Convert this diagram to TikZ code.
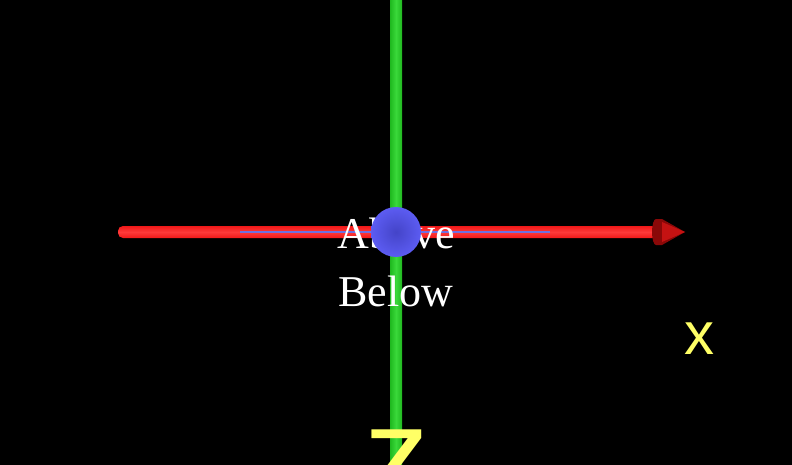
\documentclass[tikz,border=0pt]{standalone}
\usepackage{fontspec}
\setmainfont{Liberation Serif}
\newfontfamily\axisfont{Liberation Sans}
\definecolor{bgblack}{HTML}{000000}
\definecolor{greenbar}{HTML}{1FB81F}
\definecolor{greenlight}{HTML}{3AD83A}
\definecolor{redbar}{HTML}{F01818}
\definecolor{redlight}{HTML}{FF3A3A}
\definecolor{reddark}{HTML}{8A0808}
\definecolor{conered}{HTML}{C41212}
\definecolor{ballblue}{HTML}{5C5CF2}
\definecolor{ballcore}{HTML}{4444C8}
\definecolor{thinblue}{HTML}{7070E0}
\definecolor{axisyellow}{HTML}{FFFF66}
\tikzset{
  labeltext/.style={text=white, font=\fontsize{44}{44}\selectfont, inner sep=0pt},
  axistext/.style={text=axisyellow, font=\axisfont, inner sep=0pt},
}
\begin{document}
\begin{tikzpicture}[x=1pt,y=1pt]
\useasboundingbox (0,0) rectangle (792,-465);
\clip (0,0) rectangle (792,-465);
\fill[bgblack] (0,0) rectangle (792,-465);
% green vertical bar
\shade[left color=greenbar, right color=greenbar, middle color=greenlight] (390,0) rectangle (402,-465);
% yellow z
\node[axistext, font=\axisfont\fontsize{130}{130}\selectfont, anchor=north] (zlab) at (397,-430) {z};
% red horizontal bar
\shade[top color=redbar, bottom color=redbar, middle color=redlight, rounded corners=5pt] (118,-226) rectangle (660,-238);
% arrow head
\coordinate (conetip) at (685,-232);
\fill[reddark] (656,-219) -- (662,-219) -- (662,-245) -- (656,-245) arc[start angle=270,end angle=90,x radius=4,y radius=13] -- cycle;
\fill[reddark] (662,-219) -- (conetip) -- (662,-245) -- cycle;
\fill[conered] (662,-222) -- (conetip) -- (662,-242) -- cycle;
% thin blue line
\coordinate (bl) at (240,-232);
\coordinate (br) at (550,-232);
\draw[thinblue, line width=1.2pt] (bl) -- (br);
% texts
\node[labeltext, anchor=base] (above) at (396,-248) {Above};
\node[labeltext, anchor=base] (below) at (396,-306) {Below};
% ball
\shade[inner color=ballcore, outer color=ballblue] (396,-232) circle[radius=25];
% x label
\node[axistext, font=\axisfont\fontsize{60}{60}\selectfont] (xlab) at (699,-339) {x};
\end{tikzpicture}
\end{document}
